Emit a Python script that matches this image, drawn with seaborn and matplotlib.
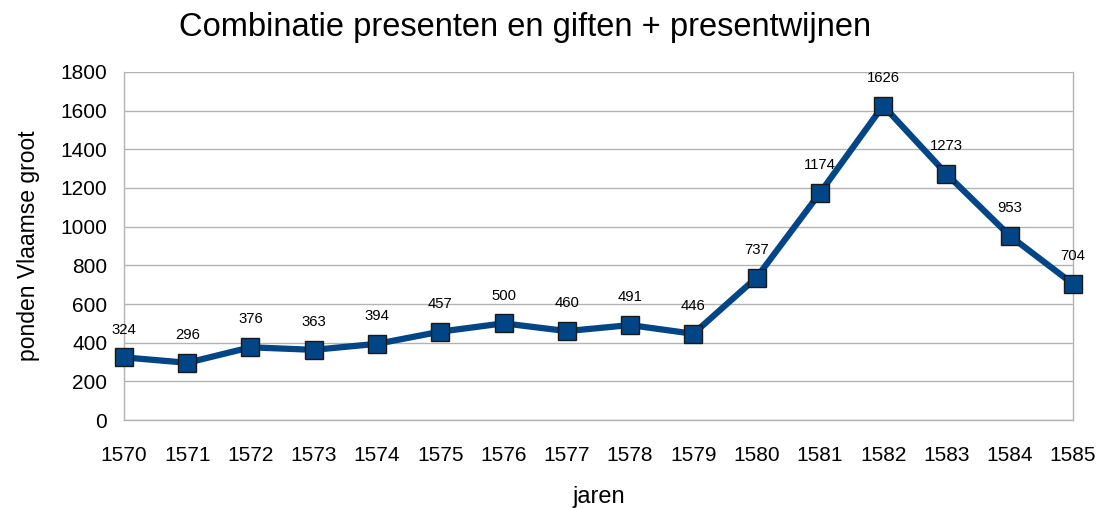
import matplotlib
matplotlib.use("Agg")
from matplotlib import pyplot as plt
import seaborn as sns
import pandas as pd

years = [1570, 1571, 1572, 1573, 1574, 1575, 1576, 1577, 1578, 1579,
         1580, 1581, 1582, 1583, 1584, 1585]
values = [324, 296, 376, 363, 394, 457, 500, 460, 491, 446,
          737, 1174, 1626, 1273, 953, 704]

df = pd.DataFrame({"jaren": years, "ponden": values})

sns.set_style("white")
plt.rcParams['font.family'] = ['Liberation Sans', 'DejaVu Sans']
plt.rcParams['text.color'] = 'black'
plt.rcParams['axes.labelcolor'] = 'black'

fig = plt.figure(figsize=(10.99, 5.08), dpi=100)
ax = fig.add_axes([0.1128, 0.1732, 0.8635, 0.6851])

sns.lineplot(data=df, x="jaren", y="ponden", ax=ax, color="#004586",
             linewidth=4.5, marker="s", markersize=13,
             markeredgecolor="#1a1a1a", markeredgewidth=1.0, zorder=3,
             clip_on=False)

for x, y in zip(years, values):
    ax.annotate(str(y), (x, y), xytext=(0, 15), textcoords="offset points",
                ha="center", va="bottom", fontsize=10.7, color="black")

ax.set_xlim(1570, 1585)
ax.set_ylim(0, 1800)
ax.set_xticks(years)
ax.set_yticks(range(0, 1801, 200))
ax.yaxis.grid(True, color="#b3b3b3", linewidth=1)
ax.set_axisbelow(True)
for side in ["left", "right", "bottom"]:
    ax.spines[side].set_color("#b3b3b3")
    ax.spines[side].set_linewidth(1)
ax.spines["top"].set_visible(False)
ax.tick_params(axis="both", direction="out", length=8, width=1,
               color="#b3b3b3", labelsize=15, labelcolor="black")
ax.tick_params(axis="x", pad=11)
ax.tick_params(axis="y", pad=4)

ax.set_xlabel("jaren", fontsize=17, labelpad=15, color="black")
ax.set_ylabel("ponden Vlaamse groot", fontsize=16.5, labelpad=15, color="black")
fig.suptitle("Combinatie presenten en giften + presentwijnen", fontsize=23.5,
             x=0.478, y=0.977, color="black")

fig.savefig("out.png", dpi=100)
